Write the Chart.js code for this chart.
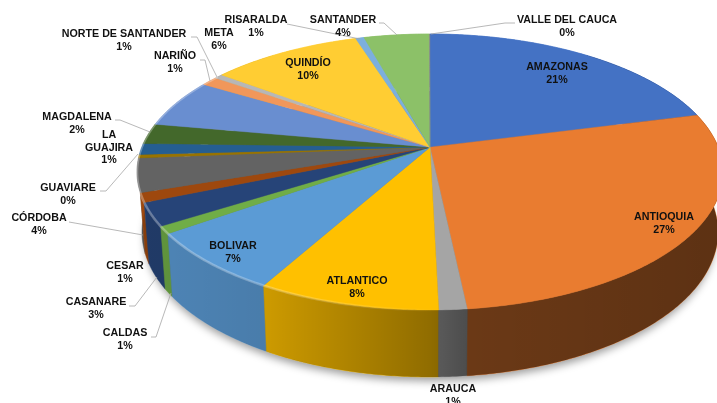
<!DOCTYPE html>
<html>
<head>
<meta charset="utf-8">
<title>Pie 3D</title>
<script src="https://cdn.jsdelivr.net/npm/chart.js@4"></script>
<style>
  html, body { margin: 0; padding: 0; background: #fff; overflow: hidden; }
  canvas { display: block; }
</style>
</head>
<body>
<canvas id="chart" width="717" height="403"></canvas>
<script>
const categories = ["AMAZONAS", "ANTIOQUIA", "ARAUCA", "ATLANTICO", "BOLIVAR", "CALDAS", "CASANARE", "CESAR", "CÓRDOBA", "GUAVIARE", "LA GUAJIRA", "MAGDALENA", "META", "NARIÑO", "NORTE DE SANTANDER", "QUINDÍO", "RISARALDA", "SANTANDER", "VALLE DEL CAUCA"];
const shares = [21, 27.36, 1.3, 8.49, 7.07, 0.85, 2.7, 1.1, 3.95, 0.4, 1.3, 2.4, 5.75, 1.1, 0.55, 9.9, 0.55, 4.3, 0.04];
const colors = ["#4472C4", "#E97C30", "#A5A5A5", "#FFC000", "#5B9BD5", "#70AD47", "#264478", "#9E480E", "#636363", "#997300", "#255E91", "#43682B", "#698ED0", "#F1975A", "#B7B7B7", "#FFCD33", "#7CAFDD", "#8CC168", "#8a8a8a"];

// label layout: text centre x, first line y
const labelSpots = {
    "AMAZONAS": [557, 67], "ANTIOQUIA": [664, 217], "ARAUCA": [453, 389], "ATLANTICO": [357, 281],
    "BOLIVAR": [233, 246], "CALDAS": [125, 333], "CASANARE": [96, 302], "CESAR": [125, 266],
    "CÓRDOBA": [39, 218], "GUAVIARE": [68, 188], "LA GUAJIRA": [109, 135], "MAGDALENA": [77, 117],
    "META": [219, 33], "NARIÑO": [175, 56], "NORTE DE SANTANDER": [124, 34], "QUINDÍO": [308, 63],
    "RISARALDA": [256, 20], "SANTANDER": [343, 20], "VALLE DEL CAUCA": [567, 20]
};
const leaders = [
    [[287, 24], [360, 39]],
    [[379, 23], [384, 23], [397, 35]],
    [[515, 23], [505, 23], [431, 34]],
    [[191, 37], [197, 37], [217, 77]],
    [[200, 60], [205, 60], [210, 81]],
    [[115, 120], [120, 120], [150, 132]],
    [[100, 191], [106, 191], [138, 154]],
    [[69, 222], [143, 235]],
    [[129, 306], [135, 306], [157, 277]],
    [[151, 337], [156, 337], [171, 293]]
];

// the tilted disc: ellipses for top face and bottom edge, a shifts the apex back
const topFace = { cx: 430, cy: 172, rx: 293, ry: 138 };
const bottomEdge = { cx: 430, cy: 232, rx: 288, ry: 145 };
const a = -0.18;
const s = Math.sqrt(1 - a * a);

function project(angle, e) {
    const x = Math.cos(angle), y = Math.sin(angle), d = 1 + a * y;
    return [e.cx + e.rx * x * s / d, e.cy + e.ry * (y + a) / d];
}

function rimPoints(start, end, e) {
    const n = Math.max(2, Math.ceil((end - start) / 0.01));
    const pts = [];
    for (let i = 0; i <= n; i++) pts.push(project(start + (end - start) * i / n, e));
    return pts;
}

function tracePath(ctx, pts) {
    ctx.beginPath();
    pts.forEach((p, i) => i ? ctx.lineTo(p[0], p[1]) : ctx.moveTo(p[0], p[1]));
    ctx.closePath();
}

const pie3d = {
    id: "pie3d",
    beforeDatasetsDraw(chart) {
        const ctx = chart.ctx;
        const arcs = chart.getDatasetMeta(0).data;

        // soft shadow under the pie
        ctx.save();
        ctx.shadowColor = "rgba(0,0,0,0.4)";
        ctx.shadowBlur = 9;
        ctx.shadowOffsetY = 4;
        ctx.fillStyle = "#666";
        ctx.beginPath();
        ctx.ellipse(bottomEdge.cx, bottomEdge.cy + 2, bottomEdge.rx - 3, bottomEdge.ry - 2, 0, 0, Math.PI * 2);
        ctx.fill();
        ctx.restore();

        const order = arcs.map((arc, i) => i)
            .sort((p, q) => project((arcs[p].startAngle + arcs[p].endAngle) / 2, topFace)[1] - project((arcs[q].startAngle + arcs[q].endAngle) / 2, topFace)[1]);
        order.forEach(i => {
            const arc = arcs[i];
            const wall = rimPoints(arc.startAngle, arc.endAngle, topFace)
                .concat(rimPoints(arc.startAngle, arc.endAngle, bottomEdge).reverse());
            tracePath(ctx, wall);
            ctx.fillStyle = colors[i];
            ctx.fill();
            ctx.strokeStyle = colors[i];
            ctx.lineWidth = 0.5;
            ctx.stroke();
        });

        // side wall lighting runs from left to right, one band over all slices
        const shade = ctx.createLinearGradient(140, 0, 717, 0);
        shade.addColorStop(0, "rgba(0,0,0,0.14)");
        shade.addColorStop(0.22, "rgba(0,0,0,0.2)");
        shade.addColorStop(0.5, "rgba(0,0,0,0.43)");
        shade.addColorStop(0.57, "rgba(0,0,0,0.54)");
        shade.addColorStop(1, "rgba(0,0,0,0.6)");
        tracePath(ctx, rimPoints(-0.9, Math.PI + 0.9, topFace).concat(rimPoints(-0.9, Math.PI + 0.9, bottomEdge).reverse()));
        ctx.fillStyle = shade;
        ctx.fill();

        // top face
        arcs.forEach((arc, i) => {
            const face = [[topFace.cx, topFace.cy + topFace.ry * a]]
                .concat(rimPoints(arc.startAngle, arc.endAngle, topFace));
            tracePath(ctx, face);
            ctx.fillStyle = colors[i];
            ctx.fill();
            ctx.strokeStyle = colors[i];
            ctx.lineWidth = 0.4;
            ctx.stroke();
        });

        // bevel highlight on the front rim, fading out towards Arauca
        const glow = ctx.createLinearGradient(160, 0, 440, 0);
        glow.addColorStop(0, "rgba(255,255,255,0.3)");
        glow.addColorStop(0.4, "rgba(255,255,255,0.25)");
        glow.addColorStop(1, "rgba(255,255,255,0)");
        const rim = rimPoints(Math.PI / 2 - 0.02, Math.PI + 0.62, topFace);
        ctx.beginPath();
        rim.forEach((p, j) => j ? ctx.lineTo(p[0], p[1]) : ctx.moveTo(p[0], p[1]));
        ctx.strokeStyle = glow;
        ctx.lineWidth = 2.5;
        ctx.stroke();
        return false;
    },
    afterDraw(chart) {
        const ctx = chart.ctx;
        ctx.save();
        ctx.strokeStyle = "#a6a6a6";
        ctx.lineWidth = 0.8;
        leaders.forEach(line => {
            ctx.beginPath();
            line.forEach((p, i) => i ? ctx.lineTo(p[0], p[1]) : ctx.moveTo(p[0], p[1]));
            ctx.stroke();
        });

        const total = shares.reduce((t, v) => t + v, 0);
        ctx.fillStyle = "#111";
        ctx.font = "bold 10.7px 'Liberation Sans'";
        ctx.textAlign = "center";
        ctx.textBaseline = "middle";
        categories.forEach((name, i) => {
            const spot = labelSpots[name];
            const lines = name === "LA GUAJIRA" ? ["LA", "GUAJIRA"] : [name];
            lines.push(Math.round(shares[i] / total * 100) + "%");
            lines.forEach((t, k) => ctx.fillText(t, spot[0], spot[1] + k * 12.6));
        });
        ctx.restore();
    }
};

new Chart(document.getElementById("chart").getContext("2d"), {
    type: "pie",
    data: {
        labels: categories,
        datasets: [{ data: shares, backgroundColor: colors, borderWidth: 0 }]
    },
    options: {
        responsive: false,
        animation: false,
        plugins: { legend: { display: false }, tooltip: { enabled: false } }
    },
    plugins: [pie3d]
});
</script>
</body>
</html>
